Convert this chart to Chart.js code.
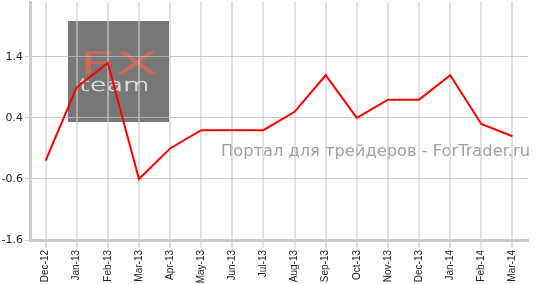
<!DOCTYPE html>
<html><head><meta charset="utf-8">
<script src="https://cdn.jsdelivr.net/npm/chart.js@4"></script>
<style>html,body{margin:0;padding:0;background:#fff;}#w{width:537px;height:284px;position:relative;}</style>
</head>
<body><div id="w"><canvas id="c"></canvas></div>
<script>
const categories = ['Dec-12','Jan-13','Feb-13','Mar-13','Apr-13','May-13','Jun-13','Jul-13','Aug-13','Sep-13','Oct-13','Nov-13','Dec-13','Jan-14','Feb-14','Mar-14'];
const values = [-0.3, 0.9, 1.3, -0.6, -0.1, 0.2, 0.2, 0.2, 0.5, 1.1, 0.4, 0.7, 0.7, 1.1, 0.3, 0.1];
const yTicks = [-1.6, -0.6, 0.4, 1.4];
const watermark = 'Портал для трейдеров - ForTrader.ru';

const decor = {
  id: 'decor',
  beforeDraw(chart) {
    const ctx = chart.ctx, a = chart.chartArea;
    ctx.save();
    // logo box
    const bx = a.left + 38, by = a.top + 19, bw = 101, bh = 101;
    ctx.fillStyle = '#777777';
    ctx.fillRect(bx, by, bw, bh);
    ctx.textBaseline = 'alphabetic';
    // FX
    ctx.save();
    ctx.translate(bx + 11, by + 53);
    ctx.scale(2.1, 1);
    ctx.font = '200 30px "DejaVu Sans"';
    ctx.fillStyle = '#cc6a5a';
    ctx.strokeStyle = '#cc6a5a';
    ctx.lineWidth = 1.2;
    ctx.fillText('FX', 0, 0);
    ctx.strokeText('FX', 0, 0);
    ctx.restore();
    // team
    ctx.save();
    ctx.translate(bx + 11, by + 70);
    ctx.scale(1.6, 1);
    ctx.font = '200 17px "DejaVu Sans"';
    ctx.fillStyle = '#dcdcdc';
    ctx.strokeStyle = '#dcdcdc';
    ctx.lineWidth = 0.5;
    ctx.fillText('team', 0, 0);
    ctx.strokeText('team', 0, 0);
    ctx.restore();
    // watermark
    ctx.font = '15.5px "DejaVu Sans"';
    const w = ctx.measureText(watermark).width;
    ctx.save();
    ctx.translate(a.right + 2, a.top + 154);
    ctx.scale(309 / w, 1);
    ctx.fillStyle = '#a89c9c';
    ctx.textAlign = 'right';
    ctx.fillText(watermark, 0, 0);
    ctx.restore();
    ctx.restore();
  }
};

new Chart(document.getElementById('c'), {
  type: 'line',
  data: {
    labels: categories,
    datasets: [{
      data: values,
      borderColor: '#ff0000',
      borderWidth: 2,
      pointRadius: 0,
      tension: 0,
      fill: false
    }]
  },
  options: {
    responsive: true,
    maintainAspectRatio: false,
    animation: false,
    layout: { padding: { top: 2, right: 9, left: 0, bottom: 0 } },
    plugins: { legend: { display: false }, tooltip: { enabled: false } },
    scales: {
      x: {
        offset: true,
        grid: { color: 'rgba(205,205,205,0.6)', lineWidth: 2, tickLength: 8 },
        border: { color: '#cccccc', width: 3 },
        ticks: { minRotation: 90, maxRotation: 90, autoSkip: false, color: '#222', padding: 2,
                 font: { family: '"Liberation Sans", Arial, sans-serif', size: 10 } },
        afterFit: s => { s.height = 44; }
      },
      y: {
        min: -1.6, max: 2.3,
        afterBuildTicks: s => { s.ticks = yTicks.map(v => ({ value: v })); },
        grid: { color: 'rgba(190,190,190,0.8)', lineWidth: 1, tickLength: 5 },
        border: { color: '#cccccc', width: 3 },
        ticks: { color: '#222', padding: 2, font: { family: '"DejaVu Sans", Verdana, sans-serif', size: 11 },
                 callback: v => String(v) },
        afterFit: s => { s.width = 30; s.paddingTop = 0; s.paddingBottom = 0; }
      }
    }
  },
  plugins: [decor]
});
</script>
</body></html>
